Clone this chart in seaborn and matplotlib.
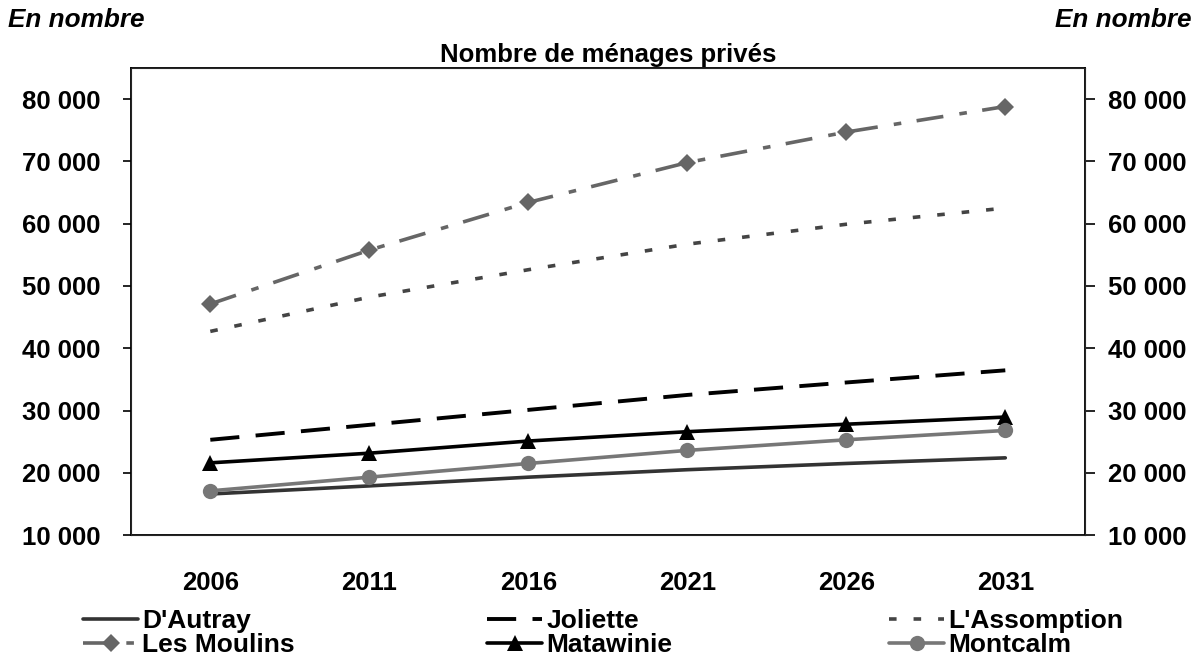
import pandas as pd
import numpy as np
import matplotlib.pyplot as plt
import seaborn as sns

# Values
years = ['2006', '2011', '2016', '2021', '2026', '2031']
d_autray = [16600, 17900, 19300, 20500, 21500, 22400]
joliette = [25300, 27700, 30100, 32500, 34500, 36450]
l_assomption = [42700, 48200, 52600, 56700, 59900, 62500]
les_moulins = [47100, 55750, 63400, 69800, 74700, 78800]
matawinie = [21600, 23150, 25100, 26600, 27800, 28950]
montcalm = [17100, 19300, 21500, 23600, 25300, 26800]

series = {
    "D'Autray": d_autray,
    'Joliette': joliette,
    "L'Assomption": l_assomption,
    'Les Moulins': les_moulins,
    'Matawinie': matawinie,
    'Montcalm': montcalm,
}

df = pd.DataFrame([(name, y, v) for name, vals in series.items() for y, v in zip(years, vals)],
                  columns=['region', 'annee', 'menages'])

sns.set_style('white')
plt.rcParams['font.family'] = ['Liberation Sans', 'DejaVu Sans']
plt.rcParams['font.weight'] = 'bold'
plt.rcParams['text.color'] = 'black'
plt.rcParams['xtick.color'] = 'black'
plt.rcParams['ytick.color'] = 'black'

# line styles per series
styles = {
    "D'Autray": dict(color='#333333', dashes=None, marker=None, ms=0, lw=2.6),
    'Joliette': dict(color='#000000', dashes=(7.5, 4.2), marker=None, ms=0, lw=2.8),
    "L'Assomption": dict(color='#444444', dashes=(2.1, 4.7), marker=None, ms=0, lw=2.6),
    'Les Moulins': dict(color='#666666', dashes=(7.5, 4.5, 2.1, 4.3), marker='D', ms=9.5, lw=2.6),
    'Matawinie': dict(color='#000000', dashes=None, marker='^', ms=12, lw=2.6),
    'Montcalm': dict(color='#777777', dashes=None, marker='o', ms=11, lw=2.6),
}

fig = plt.figure(figsize=(12, 6.59), dpi=100)
ax1 = fig.add_axes([0.109, 0.188, 0.795, 0.709])

handles = {}
for name in series:
    st = styles[name]
    sub = df[df['region'] == name]
    sns.lineplot(x='annee', y='menages', data=sub, ax=ax1, color=st['color'], lw=st['lw'],
                 marker=st['marker'], markersize=st['ms'], markeredgewidth=0,
                 label=name, legend=False, sort=False)
    line = ax1.get_lines()[-1]
    if st['dashes'] is not None:
        line.set_dashes(st['dashes'])
    handles[name] = line

ax1.set_xlim(-0.5, 5.5)
ax1.set_ylim(10000, 85000)
yt = np.arange(10000, 80001, 10000)
ylab = [f'{v:,}'.replace(',', ' ') for v in yt]
ax1.set_yticks(yt)
ax1.set_yticklabels(ylab, fontsize=18.5, fontweight='bold')
ax1.set_xticks(range(len(years)))
ax1.set_xticklabels(years, fontsize=18.5, fontweight='bold')
ax1.tick_params(axis='x', length=0, pad=26)
ax1.tick_params(axis='y', direction='out', length=6, width=1.2, pad=16, left=True)
ax1.set_xlabel('')
ax1.set_ylabel('')
for sp in ax1.spines.values():
    sp.set_color('#000000')
    sp.set_linewidth(1.3)

# right axis mirrors the left one
ax2 = ax1.twinx()
ax2.set_ylim(ax1.get_ylim())
ax2.set_yticks(yt)
ax2.set_yticklabels(ylab, fontsize=18.5, fontweight='bold')
ax2.tick_params(axis='y', direction='out', length=7, width=1.2, pad=10, right=True)

ax1.set_title('Nombre de ménages privés', fontsize=18.5, fontweight='bold', pad=4)
fig.text(0.007, 0.97, 'En nombre', fontsize=18.8, fontweight='bold', style='italic', ha='left', va='center')
fig.text(0.993, 0.97, 'En nombre', fontsize=18.8, fontweight='bold', style='italic', ha='right', va='center')

# three legend columns placed like the original
columns = [(["D'Autray", 'Les Moulins'], 83), (['Joliette', 'Matawinie'], 487),
           (["L'Assomption", 'Montcalm'], 889)]
for names, xpx in columns:
    fig.legend([handles[n] for n in names], names, loc='upper left',
               bbox_to_anchor=(xpx / 1200, 1 - 609 / 659), frameon=False,
               prop={'size': 19, 'weight': 'bold'}, handlelength=2.1, handletextpad=0.15,
               labelspacing=0.0, borderpad=0, borderaxespad=0)

plt.savefig('out.png', dpi=100)
